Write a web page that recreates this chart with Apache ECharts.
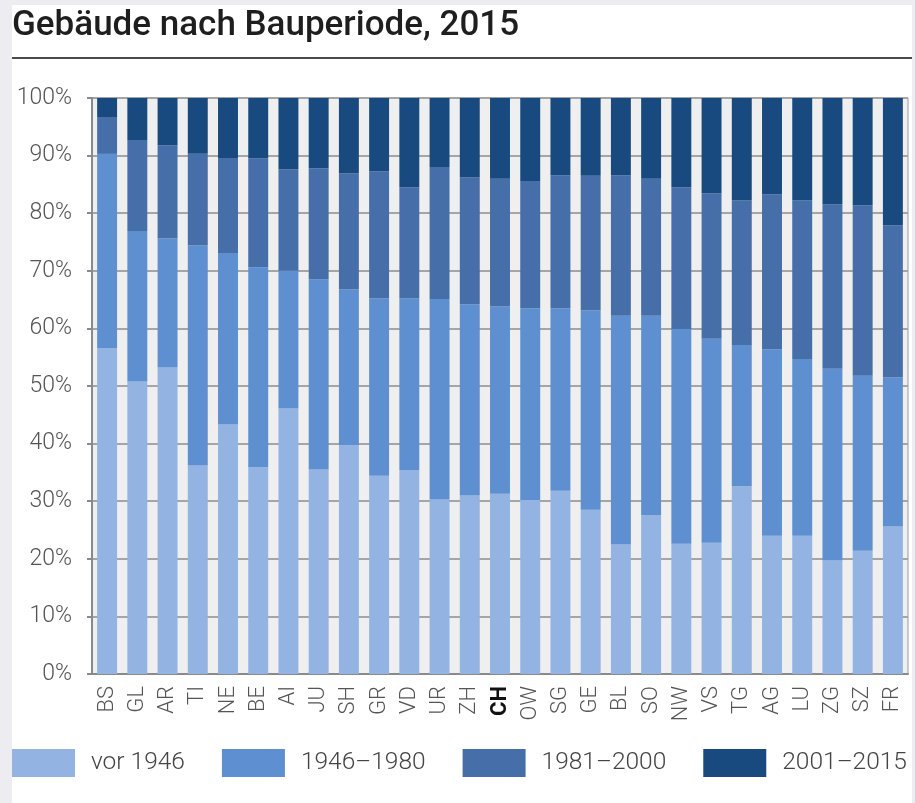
<!DOCTYPE html>
<html>
<head>
<meta charset="utf-8">
<script src="https://cdn.jsdelivr.net/npm/echarts@6/dist/echarts.min.js"></script>
<style>
html,body{margin:0;padding:0;background:#ececf1;width:915px;height:803px;overflow:hidden;}
#panel{position:absolute;left:12px;top:5px;width:900px;height:798px;background:#ffffff;}
#rule{position:absolute;left:12px;top:57px;width:900px;height:2px;background:#4a4a4a;}
#chart{position:absolute;left:0;top:0;width:915px;height:803px;}
</style>
</head>
<body>
<div id="panel"></div>
<div id="rule"></div>
<div id="chart"></div>
<script>
const titleText = 'Gebäude nach Bauperiode, 2015';
const categories = ['BS','GL','AR','TI','NE','BE','AI','JU','SH','GR','VD','UR','ZH','CH','OW','SG','GE','BL','SO','NW','VS','TG','AG','LU','ZG','SZ','FR'];
const seriesNames = ['vor 1946','1946\u20131980','1981\u20132000','2001\u20132015'];
const vor1946   = [56.6,50.8,53.2,36.2,43.3,35.9,46.1,35.5,39.7,34.4,35.4,30.3,31.0,31.3,30.2,31.8,28.5,22.5,27.6,22.6,22.8,32.6,24.0,24.0,19.7,21.4,25.6];
const p1946_1980 = [33.7,26.1,22.4,38.2,29.8,34.7,23.9,33.0,27.1,30.8,29.8,34.8,33.2,32.5,33.3,31.7,34.6,39.7,34.6,37.3,35.4,24.5,32.4,30.7,33.3,30.4,25.9];
const p1981_2000 = [6.4,15.8,16.2,15.9,16.5,18.9,17.6,19.3,20.1,22.1,19.3,22.9,22.0,22.2,22.1,23.1,23.4,24.4,23.8,24.6,25.2,25.1,26.9,27.5,28.5,29.6,26.4];
const p2001_2015 = [3.3,7.3,8.2,9.7,10.4,10.5,12.4,12.2,13.1,12.7,15.5,12.0,13.8,14.0,14.4,13.4,13.5,13.4,14.0,15.5,16.6,17.8,16.7,17.8,18.5,18.6,22.1];
const yTicks = [0,10,20,30,40,50,60,70,80,90,100];
const highlight = 'CH';

const colors = ['#93b4e2','#5e8fd1','#466ea9','#184a80'];
const values = [vor1946, p1946_1980, p1981_2000, p2001_2015];

const chart = echarts.init(document.getElementById('chart'), null, {renderer:'canvas'});
chart.setOption({
  animation:false,
  backgroundColor:'transparent',
  color: colors,
  title:{
    text:titleText, left:12, top:9, padding:0,
    textStyle:{fontFamily:'Roboto', fontSize:35, fontWeight:500, color:'#1e1e1e'}
  },
  legend:{
    left:12, top:749, padding:0, itemWidth:63, itemHeight:28, itemGap:37,
    icon:'rect',
    data:seriesNames,
    textStyle:{fontFamily:'Roboto', fontSize:24.5, fontWeight:300, color:'#444', padding:[0,0,0,11]}
  },
  grid:{left:92, right:7, top:98, bottom:129, show:true, backgroundColor:'#efefef', borderColor:'#9a9a9a', borderWidth:1, containLabel:false},
  xAxis:{
    type:'category',
    data: categories.map(c => c===highlight ? {value:c, textStyle:{fontWeight:'bold', color:'#111'}} : c),
    axisLine:{lineStyle:{color:'#8a8a8a', width:2}},
    axisTick:{show:false},
    axisLabel:{rotate:90, margin:12, fontFamily:'Roboto', fontSize:22, fontWeight:300, color:'#555', interval:0}
  },
  yAxis:{
    type:'value', min:yTicks[0], max:yTicks[yTicks.length-1], interval:10,
    axisLine:{show:true, lineStyle:{color:'#8a8a8a', width:2}},
    axisTick:{show:true, length:5, lineStyle:{color:'#8a8a8a', width:2}},
    splitLine:{lineStyle:{color:'#a5a5a5', width:2}},
    axisLabel:{formatter:'{value}%', margin:20, fontFamily:'Roboto', fontSize:23, fontWeight:300, color:'#555'}
  },
  series: seriesNames.map((n,i)=>({
    name:n, type:'bar', stack:'total', data:values[i], barCategoryGap:'34%',
    itemStyle:{color:colors[i]}
  }))
});
</script>
</body>
</html>
